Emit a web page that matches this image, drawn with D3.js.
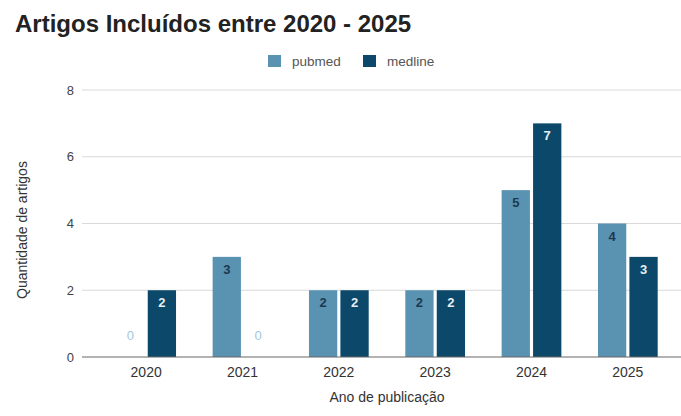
<!DOCTYPE html>
<html>
<head>
<meta charset="utf-8">
<script src="https://cdn.jsdelivr.net/npm/d3@7"></script>
<style>
  body { margin: 0; background: #fff; }
  svg { display: block; font-family: "Liberation Sans", Arial, sans-serif; }
</style>
</head>
<body>
<svg id="chart" width="681" height="416"></svg>
<script>
// Chart data
const years = ['2020', '2021', '2022', '2023', '2024', '2025'];
const seriesNames = ['pubmed', 'medline'];
const pubmed = [0, 3, 2, 2, 5, 4];
const medline = [2, 0, 2, 2, 7, 3];
const yTicks = [0, 2, 4, 6, 8];

const colors = { pubmed: '#5a92b2', medline: '#0c4869' };
const labelColors = { pubmed: '#1b3a50', medline: '#e6eef3' };

const svg = d3.select('#chart');
const W = 681, H = 416;

const x = d3.scaleBand().domain(years).range([98, 676]).paddingInner(0.38).paddingOuter(0.19);
const xs = d3.scaleBand().domain(seriesNames).range([0, x.bandwidth()]).paddingInner(0.1);
const y = d3.scaleLinear().domain([0, 8]).range([357, 90]);

// Title
svg.append('text')
    .attr('x', 15).attr('y', 32)
    .style('font-size', '24px').style('font-weight', 'bold').style('fill', '#222')
    .text('Artigos Incluídos entre 2020 - 2025');

// Legend
const legend = svg.append('g').attr('transform', 'translate(268,55)');
const legendPos = [0, 95];
seriesNames.forEach((s, i) => {
    const lg = legend.append('g').attr('transform', `translate(${legendPos[i]},0)`);
    lg.append('rect').attr('width', 13).attr('height', 12).attr('fill', colors[s]);
    lg.append('text').attr('x', 24).attr('y', 11)
        .style('font-size', '13.5px').style('fill', '#555').text(s);
});

// Grid
svg.append('g').selectAll('line')
    .data(yTicks.filter(d => d > 0))
    .enter().append('line')
    .attr('x1', 82).attr('x2', W)
    .attr('y1', d => y(d)).attr('y2', d => y(d))
    .attr('stroke', '#d9d9d9').attr('stroke-width', 1);

// Y tick labels
svg.append('g').selectAll('text')
    .data(yTicks)
    .enter().append('text')
    .attr('x', 74).attr('y', d => y(d)).attr('dy', '0.35em')
    .attr('text-anchor', 'end')
    .style('font-size', '13px').style('fill', '#444')
    .text(d => d);

// Y title
svg.append('text')
    .attr('transform', 'translate(27,230) rotate(-90)')
    .attr('text-anchor', 'middle')
    .style('font-size', '14px').style('fill', '#333')
    .text('Quantidade de artigos');

// Bars
const rows = years.map((yr, i) => ({ year: yr, values: [
    { key: 'pubmed', value: pubmed[i] },
    { key: 'medline', value: medline[i] }
] }));

const groups = svg.append('g').selectAll('g')
    .data(rows)
    .enter().append('g')
    .attr('transform', d => `translate(${x(d.year)},0)`);

const bars = groups.selectAll('g')
    .data(d => d.values)
    .enter().append('g');

bars.append('rect')
    .attr('x', d => xs(d.key))
    .attr('width', xs.bandwidth())
    .attr('y', d => y(d.value))
    .attr('height', d => y(0) - y(d.value))
    .attr('fill', d => colors[d.key]);

bars.append('text')
    .attr('x', d => xs(d.key) + xs.bandwidth() / 2)
    .attr('y', d => d.value === 0 ? y(0) - 17 : y(d.value) + 17)
    .attr('text-anchor', 'middle')
    .style('font-size', '13px')
    .style('font-weight', d => d.value === 0 ? 'normal' : 'bold')
    .style('fill', d => d.value === 0 ? '#a5c7d8' : labelColors[d.key])
    .text(d => d.value);

// Baseline
svg.append('line')
    .attr('x1', 82).attr('x2', W)
    .attr('y1', y(0)).attr('y2', y(0))
    .attr('stroke', '#666').attr('stroke-width', 1);

// X tick labels
svg.append('g').selectAll('text')
    .data(years)
    .enter().append('text')
    .attr('x', d => x(d) + x.bandwidth() / 2)
    .attr('y', 377)
    .attr('text-anchor', 'middle')
    .style('font-size', '14px').style('fill', '#333')
    .text(d => d);

// X title
svg.append('text')
    .attr('x', 387).attr('y', 402)
    .attr('text-anchor', 'middle')
    .style('font-size', '14px').style('fill', '#333')
    .text('Ano de publicação');
</script>
</body>
</html>
